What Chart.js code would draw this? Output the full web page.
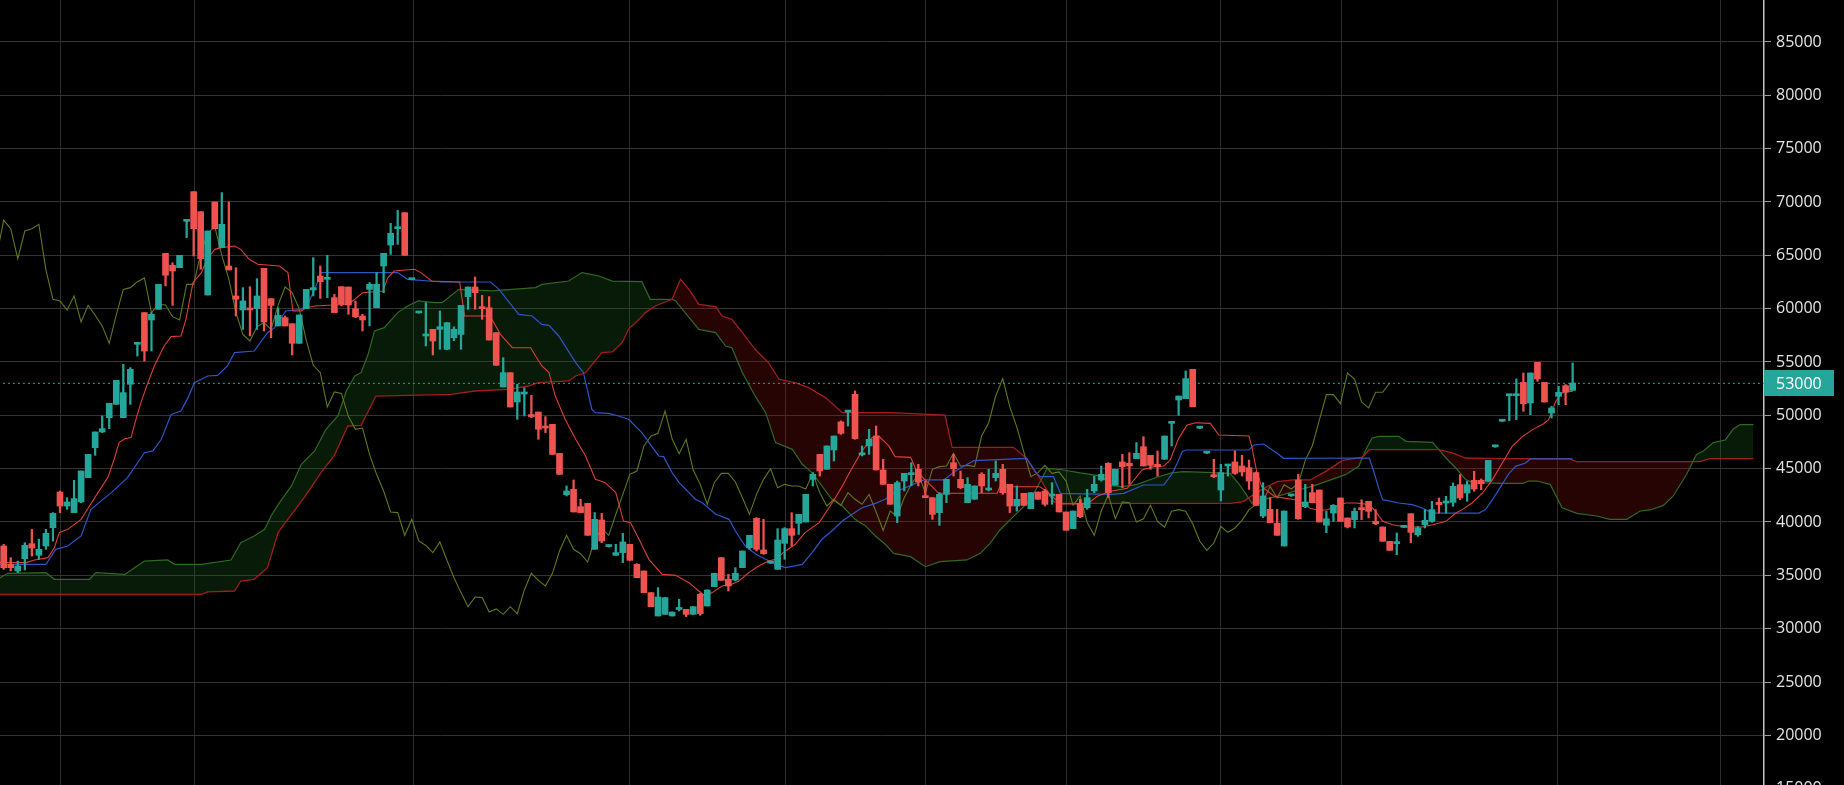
<!DOCTYPE html>
<html>
<head>
<meta charset="utf-8">
<script src="https://cdn.jsdelivr.net/npm/chart.js@4.4.1/dist/chart.umd.min.js"></script>
<style>
html,body{margin:0;padding:0;background:#000;overflow:hidden;}
#wrap{position:relative;width:1844px;height:785px;background:#000;}
</style>
</head>
<body>
<div id="wrap"><canvas id="chart"></canvas></div>
<script>
// ---- Candle data (index 0..223) ----
const opens = [
37750,36030,35410,36560,37970,36880,37750,39470,42810,41500,
40880,41880,44160,46970,48440,49780,51030,49780,52910,56660,
59630,58940,59940,65190,64060,63840,68190,70970,69090,61280,
70000,65720,64000,61190,59880,60000,60000,63780,60940,58380,
59160,58590,56750,60000,61750,63060,62750,61030,62060,62030,
60000,59310,61810,60090,64000,65970,67500,69000,62720,59600,
57440,58060,58060,56190,57280,57590,61130,62030,60090,60090,
57750,52660,54000,51250,52000,49940,50310,48940,49160,46440,
42560,43060,41440,41750,37440,40190,37700,36880,37130,37910,
36030,35410,33380,31190,31340,31190,31800,31810,31340,33220,
32130,33940,36660,34630,34560,35720,37590,40340,37380,36150,
35560,38000,39380,39880,40000,44000,46340,44940,46750,49380,
50310,51970,46300,47130,48060,44880,43530,40560,43840,44440,
44940,42440,42280,40880,42590,45560,44000,41810,42130,44470,
43000,44160,44940,43530,41500,42690,41250,42810,42910,42440,
42590,40940,39380,41750,41340,42910,43940,45500,43440,45630,
45500,45940,47060,46250,45410,45880,49250,51440,51560,54310,
48800,46450,44410,43000,45250,45630,45250,45090,44630,40560,
41190,39880,37750,42450,43940,41440,42750,43000,39700,40840,
42250,40380,40220,41310,41940,40060,39530,38190,37970,39500,
40780,38810,39750,40060,41840,41780,41840,43500,42720,43910,
43910,43810,47050,49450,51840,51840,53090,51160,54970,53090,
50220,51780,52780,52340];
const highs = [
37900,36660,36340,38060,39310,38380,39310,40880,42910,42280,
43910,44780,46340,48440,49940,51130,53280,54780,54470,56810,
59630,59630,62280,65190,64310,65000,68280,70970,69090,67280,
70000,70880,70000,63840,61970,62060,62810,63780,60940,60090,
59310,58590,59410,61810,64780,64000,65000,61340,62060,62030,
60720,59470,62440,63380,65190,68000,69220,69000,62800,59660,
60560,58060,59780,58690,58300,60310,62030,62970,61250,61130,
57750,55410,54000,52910,52590,51880,50310,49880,49160,46440,
43380,43940,42130,41750,40880,40810,37850,37910,38940,37910,
36100,35410,33380,33840,32910,31560,32750,31810,32060,33310,
33630,35190,36660,35090,35720,37280,38750,40410,40250,36300,
39380,39470,40880,40720,42590,44630,46340,47130,48060,49470,
50410,52280,47130,48690,49000,45880,43530,43840,44560,45560,
45410,43840,42280,42750,44000,46340,44780,44160,43380,44630,
44940,45720,45410,43530,43380,42690,42750,42810,43060,43690,
42590,40940,41030,42130,43060,44310,45250,45560,44940,46340,
46500,47440,48000,46250,46660,48060,49310,51810,54160,54310,
48950,46600,45880,45410,45310,46660,46250,45810,44690,43690,
42280,41190,41030,42600,44470,43530,43530,43000,41000,41630,
42250,40380,41310,42090,41940,41160,39530,38190,38970,39600,
40780,39590,41160,41940,42250,42410,43660,44440,43810,44750,
44030,45780,47200,49600,51940,53410,53970,53970,54970,53090,
50840,52720,52880,54910];
const lows = [
35560,35410,35250,35500,36810,36500,37440,38220,40880,41190,
40880,41810,44160,46250,48380,48750,51030,49780,51030,55560,
55090,56030,59940,62130,60310,63840,66660,64940,63690,61280,
67500,65720,63630,59310,58060,57440,58060,57910,57280,58380,
58380,55660,56750,60000,61190,60970,61030,59630,60250,59470,
59160,57910,58380,60090,61500,65090,66030,65000,62700,59580,
56500,55660,56190,56150,57000,56190,59940,59940,59000,57060,
54690,52660,50780,49630,49940,49780,47750,48380,46340,44470,
42440,40940,40880,38750,37440,38060,37650,36880,36190,36410,
34780,33380,32060,31190,31340,31190,31660,31130,31340,31250,
32130,33940,34530,33530,34470,35720,37440,37280,36970,36100,
35560,36500,37750,38840,40000,43380,44310,44940,45720,48220,
49000,47750,46190,46340,44880,43530,41660,39940,42910,43380,
43380,42280,40250,39690,41810,44310,43130,41810,42130,42750,
42910,43840,42590,40880,41030,41560,41250,42130,41500,41660,
40940,39220,39380,40410,41190,42750,43840,42280,43440,43220,
43530,45940,45250,44940,44310,45880,47130,50000,51560,50810,
48750,46400,44160,41970,44310,44470,44310,43060,41560,40410,
39940,38750,37750,42400,40250,41340,41810,40000,39000,40060,
40060,39440,39440,40220,40380,39750,38190,37340,36940,39470,
38060,38660,39440,39970,40840,40840,41470,42090,41940,42880,
43030,43810,47000,49400,49500,49590,50380,50060,53190,51250,
49750,51000,51000,52340];
const closes = [
35720,35720,35880,37810,37560,37440,38940,40810,41500,41880,
42190,44780,46340,48440,48750,51130,53280,52130,54310,56750,
56030,59470,62280,63130,63530,65000,68280,67500,64690,67280,
67500,67910,63630,60880,60720,59880,61190,58750,60310,59380,
58380,56750,59410,61810,61970,62530,62880,59630,60410,60340,
59250,58940,62280,62280,65190,67060,67690,65000,62780,59650,
57590,56970,58310,58690,58060,60310,62030,61500,60000,57060,
54690,54000,50780,52190,52060,49880,48690,48810,46340,44470,
42910,40940,40880,38750,40250,38220,37800,37130,38130,36410,
34780,33380,32060,32970,32910,31560,31850,31340,32060,31410,
33630,35190,34530,34000,35190,37280,38750,37440,37030,36250,
38310,39380,38750,40720,42590,44470,44780,47130,48060,48310,
50410,47810,46400,47750,44880,43530,41660,43690,44560,44560,
43750,42280,40720,42590,44000,45000,43220,43530,43380,43380,
43100,44560,42750,41500,42130,41560,42750,42130,41660,42590,
40940,39220,41030,40500,42280,43530,44470,42750,44940,45190,
45250,46440,45250,45310,45190,48060,49310,51810,53440,50810,
48900,46550,44250,44630,45310,44560,44690,43840,41560,42440,
39940,38750,41030,42550,40310,41880,41810,40000,40300,41560,
40060,39530,41000,41160,41000,39840,38190,37340,38030,39580,
39030,39440,40160,41160,41630,41940,43340,42250,43500,43090,
43590,45780,47150,49550,51940,51940,51090,53970,53410,51250,
50690,52160,52160,53030];

// ---- Indicator lines: [bar index, value] ----
const tenkanLine = [
[-1,36200],[3.2,36190],[4.4,36440],[6.3,36660],[7.2,37590],[7.9,39000],[9.1,39310],[11,40250],[11.9,41190],
[13.4,42750],[14.8,44160],[15.7,45880],[16.4,47440],[17.2,47810],[18.1,47910],[18.8,49630],[19.5,51190],
[20.5,53060],[21.4,54630],[22.1,55560],[22.8,56500],[23.8,57380],[25.2,57440],[25.9,59000],[26.9,62440],
[28.1,63380],[28.9,64630],[30,65560],[30.9,65720],[32.8,65880],[33.7,65560],[34.9,64630],[36.1,64160],
[39.2,64000],[40.4,63380],[41.1,59780],[42.3,59780],[43,60090],[44.2,60250],[48.9,60410],[49.9,60880],
[51,61500],[53.9,61660],[54.6,62910],[55.5,63530],[58.4,63690],[59.3,63380],[60.8,62590],[63.6,62530],
[64.8,62500],[65.5,59310],[68.5,59310],[69.4,59000],[70.6,57590],[72.3,56340],[74.9,56340],[75.6,55560],
[76.5,54630],[77.5,54000],[78.4,51810],[79.8,49630],[81.3,47750],[82.7,46190],[84.1,44000],[85.5,43690],
[87,42750],[88.1,40090],[89.1,39940],[90.3,38380],[91.7,36500],[93.6,35090],[95.5,35000],[97.4,34310],
[98.8,33530],[99.7,33060],[100.7,33380],[102.1,34000],[103.5,34160],[104.5,34470],[105.9,35250],
[107.3,35880],[108.7,36340],[109.7,36500],[111.1,37280],[112.5,37910],[113.9,39000],[115.9,39940],
[117.3,41340],[118.2,42280],[119.2,43380],[120.6,45090],[122,46660],[123.4,47910],[124.4,48060],
[125.8,47130],[126.7,46130],[128.9,46060],[129.8,44720],[132.9,42690],[141.2,42690],[141.6,43310],
[147.3,43310],[148.3,42840],[150.2,41700],[154,41700],[155.5,42440],[157.5,42900],[159.7,43160],
[161.8,44880],[163.5,45190],[164.9,45250],[165.8,45810],[167,47840],[168.2,49090],[169.4,49310],
[171.5,49250],[172.7,48160],[177,48060],[177.4,47060],[178.1,44720],[178.8,43310],[180.7,42380],
[183.8,42060],[185.7,41280],[186.7,41130],[188,41130],[190,41600],[190.7,41780],[192.2,41780],
[194.1,41630],[195,41000],[196,40060],[197.4,39750],[199.3,39530],[201.6,39530],[203.1,39750],
[205,40060],[206.4,40840],[207.3,41160],[208.7,41780],[210.2,42720],[211.6,43970],[213,45530],
[214.4,47090],[215.9,48030],[217.3,48660],[218.7,49130],[219.6,49590],[220.6,51310],[221.5,52090],
[222.5,52250],[223,52250]];
const kijunLine = [
[-1,36030],[6,36030],[7.4,37440],[9.1,37750],[11,38690],[12.4,41190],[15.3,42750],[17.6,44160],[20,46500],
[21.2,46660],[22.4,47750],[23.8,50090],[25.2,50410],[26.2,51660],[27.1,53060],[29,53690],[30.4,53750],
[31.8,54630],[32.8,55880],[35.6,56030],[37.5,57750],[38.5,58220],[40.1,59780],[42.3,59940],[43.2,60410],
[44.2,61810],[45.1,63380],[56,63380],[57.4,62750],[62.3,62500],[69.2,62500],[70.4,61810],[73.2,59470],
[75.1,59310],[76.5,58530],[77.5,58440],[78.9,57440],[81.3,54940],[82.4,54000],[83.6,50560],[84.1,50250],
[86,50190],[87.4,49940],[88.8,49630],[90.7,48380],[93.1,46190],[93.8,46130],[95,44630],[96,43690],
[98.3,42130],[99.3,41810],[101.2,40720],[103.1,40250],[104,39160],[105.4,37750],[106.9,36970],
[108.3,36500],[109.7,36030],[111.1,35720],[112.5,35880],[113.5,36030],[114.9,37130],[116.3,38380],
[117.7,39160],[119.2,40090],[120.6,40720],[122,41340],[123.9,41750],[125.3,42130],[126.5,42750],
[129.5,43600],[130.8,43940],[133.6,43940],[135.5,44880],[137.9,45750],[145.4,45970],[146.6,44720],
[147.3,44250],[149.2,44250],[150.2,42690],[157.4,42590],[159.2,42690],[162,43470],[164.9,43470],
[166.1,44560],[166.8,45500],[167.5,46590],[168,46750],[177,46750],[177.7,47220],[179.1,47310],
[181,46440],[181.9,45970],[194.1,46000],[194.8,44590],[195.5,43030],[196,42090],[198.3,41780],
[200.2,41630],[201.6,41310],[203.1,40840],[209.7,40840],[210.6,41160],[211.6,42090],[212.5,43030],
[214,44590],[214.9,45220],[216.3,45530],[217,45910],[223,45910]];
const senkouALine = [
[-1,34600],[0.6,35190],[6,35250],[7.2,34630],[12.2,34630],[13.1,35250],[17.2,35090],[18.6,35720],
[20,36340],[23.3,36440],[24.3,36030],[28.1,36030],[32.3,36440],[33.7,38060],[35.6,38690],[37.1,39310],
[38,40560],[39.2,41810],[40.9,43380],[42.3,45410],[44.2,46660],[45.8,48690],[47.5,49940],[48.7,52280],
[49.9,53690],[50.8,54000],[51.8,55720],[52.7,57910],[54.1,58220],[56,59630],[57.4,60250],[58.9,60720],
[61.2,60560],[62.3,60560],[64.7,61810],[69.4,61660],[75.6,61970],[76.5,62280],[80.3,62590],[82.2,63380],
[84.6,63060],[86.5,62590],[90.7,62530],[91.9,60880],[95,60880],[95.5,60720],[98.8,58060],[101.2,57750],
[102.6,56500],[103.5,56340],[105,54000],[106.8,51810],[108.3,50250],[109.7,47440],[112.1,46810],
[113.5,45410],[114.9,44630],[117.7,42130],[119.2,41500],[121,40250],[122.5,39630],[123.9,38690],
[125.3,37910],[126.5,37060],[128.9,36750],[131,35810],[133.1,36280],[136.9,36440],[138.8,37060],
[140.2,38000],[141.6,39250],[143.5,40500],[144.5,41130],[145.9,42060],[147.5,44000],[148.3,45030],
[150.4,44900],[153,44600],[156,44300],[157.5,43400],[159,43310],[161,43500],[164,44220],[166,44600],
[167.7,44720],[171,44650],[174.3,44560],[175.5,43630],[176.5,42690],[177.4,41750],[178.5,42000],
[181.5,42500],[184,43000],[186,43340],[190.7,44440],[192.6,45220],[193.6,46780],[194.5,47880],
[195.5,48030],[198.3,48030],[199.3,47560],[203.1,47470],[204,46780],[205,46000],[206.4,45060],
[207.8,43970],[208.7,43720],[210.6,43660],[212.7,43630],[216,43630],[216.7,43840],[217.9,43840],
[219.8,43530],[221.5,41340],[223.6,40810],[226.4,40560],[228.3,40250],[230.7,40250],[232.6,41030],
[234,41130],[235.9,41560],[237.3,42440],[239.2,44470],[240.6,46340],[241.6,46660],[243,47440],
[244.7,47690],[245.8,48690],[246.8,49130],[248.7,49130]];
const senkouBLine = [
[-1,33220],[28.1,33220],[29,33440],[32.8,33530],[33.7,34470],[35.6,34630],[37.5,35720],[39,39000],
[40.9,40720],[42.7,42280],[45.1,44630],[47,46250],[48.9,49000],[50.8,49060],[52.9,51810],[63.6,51970],
[67,52280],[71.8,52440],[74.6,52750],[76,53060],[80.3,53220],[81.3,53690],[82.7,54000],[85,55880],
[86.5,55940],[87.9,56810],[88.8,58060],[90.3,59000],[91.2,59630],[92.6,60250],[95,60880],[96.2,62750],
[97.4,61810],[98.8,60410],[101.2,60190],[102.1,59310],[103.5,59000],[105,57750],[106.8,56190],
[108.7,54940],[110.2,53380],[112.5,53060],[114.4,52590],[116.8,51660],[119.2,50250],[126.3,50250],
[133.8,50030],[134.8,47000],[143.5,47000],[145.4,45970],[147.3,44090],[149.2,41910],[150.2,41750],
[174.4,41750],[176.2,41910],[177.2,42380],[179.1,43160],[181,43780],[183.3,43940],[185.7,43940],
[187.9,44750],[190.3,45780],[193.1,46090],[194.1,46780],[204,46780],[205.9,46470],[207.8,46000],
[212.7,45940],[222.4,45940],[223.6,45660],[241.1,45660],[242.5,45940],[248.7,45940]];
const chikouShift = 26;

// ---- Axis values ----
const yTicks = [15000,20000,25000,30000,35000,40000,45000,50000,55000,60000,65000,70000,75000,80000,85000];
const xGridAt = [8.1,27.05,58.2,88.9,111.05,131,151,173,190.1,220.9,244];
const lastPrice = 53000;
const yMin = 15344, yMax = 88937;
const xMin = -0.526, xMax = 250.2;

// ---- Styles ----
const UP = '#26a69a', DOWN = '#ef5350';
const candleColors = closes.map((c, i) => c >= opens[i] ? UP : DOWN);
const toPts = arr => arr.map(([x, y]) => ({x, y}));

const priceLabel = {
  id: 'priceLabel',
  afterDraw(chart) {
    const ctx = chart.ctx, area = chart.chartArea;
    const y = chart.scales.y.getPixelForValue(lastPrice);
    ctx.save();
    ctx.fillStyle = UP;
    ctx.fillRect(area.right, Math.round(y) - 13, 70, 26);
    ctx.fillStyle = '#ffffff';
    ctx.font = '16px "Open Sans", sans-serif';
    ctx.textBaseline = 'middle';
    ctx.textAlign = 'left';
    ctx.fillText(String(lastPrice), area.right + 12, Math.round(y) + 1);
    ctx.restore();
  }
};

const lineBase = {type: 'line', pointRadius: 0, pointHoverRadius: 0, tension: 0, fill: false};

new Chart(document.getElementById('chart'), {
  type: 'bar',
  data: {
    datasets: [
      Object.assign({}, lineBase, {label: 'Senkou A', data: toPts(senkouALine), borderColor: '#2f6a22', borderWidth: 1.2,
        fill: {target: '+1', above: 'rgba(35,120,35,0.22)', below: 'rgba(150,15,15,0.26)'}, order: 20}),
      Object.assign({}, lineBase, {label: 'Senkou B', data: toPts(senkouBLine), borderColor: '#a11d1d', borderWidth: 1.3, order: 19}),
      Object.assign({}, lineBase, {label: 'Chikou', data: closes.map((c, i) => ({x: i - chikouShift, y: c})), borderColor: '#5d7a1f', borderWidth: 1.1, order: 18}),
      Object.assign({}, lineBase, {label: 'Kijun', data: toPts(kijunLine), borderColor: '#2d56c9', borderWidth: 1.2, order: 17}),
      Object.assign({}, lineBase, {label: 'Tenkan', data: toPts(tenkanLine), borderColor: '#de3f38', borderWidth: 1.1, order: 16}),
      {type: 'bar', label: 'Wicks', data: lows.map((l, i) => ({x: i, y: [l, highs[i]]})), backgroundColor: candleColors,
        borderWidth: 0, barThickness: 1.6, grouped: false, order: 3},
      {type: 'bar', label: 'Bodies', data: opens.map((o, i) => ({x: i, y: [o, closes[i]]})), backgroundColor: candleColors,
        borderWidth: 0, barThickness: 6, minBarLength: 2, grouped: false, order: 2},
      Object.assign({}, lineBase, {label: 'Last', data: [{x: xMin - 1, y: lastPrice}, {x: xMax + 1, y: lastPrice}],
        borderColor: UP, borderWidth: 1, borderDash: [2, 3], order: 1})
    ]
  },
  options: {
    responsive: true,
    maintainAspectRatio: false,
    animation: false,
    events: [],
    layout: {padding: 0},
    plugins: {legend: {display: false}, tooltip: {enabled: false}},
    scales: {
      x: {
        type: 'linear', min: xMin, max: xMax, offset: false,
        grid: {color: '#2e2e2e', lineWidth: 1, drawTicks: false, offset: false},
        border: {display: false},
        ticks: {display: false, autoSkip: false},
        afterBuildTicks: s => { s.ticks = xGridAt.map(v => ({value: v})); },
        afterFit: s => { s.height = 0; s.paddingLeft = 0; s.paddingRight = 0; }
      },
      y: {
        type: 'linear', position: 'right', min: yMin, max: yMax,
        grid: {color: '#333333', lineWidth: 1, drawTicks: true, tickLength: 7, tickColor: '#9a9a9a'},
        border: {display: true, color: '#c4c4c4', width: 1.5},
        ticks: {color: '#e4e4e4', padding: 5, autoSkip: false, font: {family: '"Open Sans", sans-serif', size: 16}, callback: v => String(v)},
        afterBuildTicks: s => { s.ticks = yTicks.map(v => ({value: v})); },
        afterFit: s => { s.width = 80; s.paddingTop = 0; s.paddingBottom = 0; }
      }
    }
  },
  plugins: [priceLabel]
});
</script>
</body>
</html>
